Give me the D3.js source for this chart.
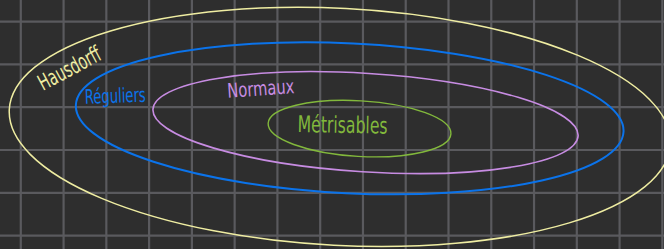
<!DOCTYPE html>
<html>
<head>
<meta charset="utf-8">
<script src="https://cdn.jsdelivr.net/npm/d3@7"></script>
<style>
  html, body { margin: 0; padding: 0; background: #2e2e2e; }
  svg { display: block; }
</style>
</head>
<body>
<svg id="chart" width="664" height="249"></svg>
<script>
// grid positions, in grid units
const gridCols = d3.range(0, 16);
const gridRows = d3.range(0, 6);

// the nested sets, outermost first (grid units, tilt in degrees)
const setNames = ["Hausdorff", "Réguliers", "Normaux", "Métrisables"];
const centreX = [7.46, 7.69, 8.06, 7.92];
const centreY = [2.46, 2.26, 2.36, 2.50];
const radiusX = [7.74, 6.41, 4.98, 2.14];
const radiusY = [2.77, 1.75, 1.15, 0.65];
const tilt = [3.0, 2.8, 3.6, 3.3];

// where each name is written (grid units) and its slant
const labelX = [0.52, 1.5, 4.84, 6.47];
const labelY = [1.62, 1.92, 1.78, 2.58];
const labelAngle = [-28, -2, -4, 1];

const colours = ["#efeda2", "#0b73ea", "#c78ce2", "#82b83c"];
const strokeW = [1.5, 2, 1.6, 1.4];
const fontSize = [22, 20, 20, 23];
const labelLen = [68, 61, 67, 90];

const W = 664, H = 249;
const svg = d3.select('#chart');

const x = d3.scaleLinear().domain([0, 15]).range([20.8, 20.8 + 15 * 42.77]);
const y = d3.scaleLinear().domain([0, 5]).range([21.6, 21.6 + 5 * 42.8]);

svg.append('rect')
    .attr('width', W)
    .attr('height', H)
    .attr('fill', '#2e2e2e');

// grille
const grid = svg.append('g').attr('stroke', '#5a5a5e').attr('stroke-width', 2.2);
grid.selectAll('.v')
    .data(gridCols)
    .join('line')
    .attr('x1', d => x(d)).attr('x2', d => x(d))
    .attr('y1', 0).attr('y2', H);
grid.selectAll('.h')
    .data(gridRows)
    .join('line')
    .attr('y1', d => y(d)).attr('y2', d => y(d))
    .attr('x1', 0).attr('x2', W);

const sets = setNames.map((name, i) => ({ name, i }));

// ellipses
svg.append('g')
    .selectAll('ellipse')
    .data(sets)
    .join('ellipse')
    .attr('cx', 0)
    .attr('cy', 0)
    .attr('rx', d => x(radiusX[d.i]) - x(0))
    .attr('ry', d => y(radiusY[d.i]) - y(0))
    .attr('transform', d => `translate(${x(centreX[d.i])},${y(centreY[d.i])}) rotate(${tilt[d.i]})`)
    .attr('fill', 'none')
    .attr('stroke', d => colours[d.i])
    .attr('stroke-width', d => strokeW[d.i]);

// noms des ensembles
svg.append('g')
    .selectAll('text')
    .data(sets)
    .join('text')
    .attr('transform', d => `translate(${x(labelX[d.i])},${y(labelY[d.i])}) rotate(${labelAngle[d.i]})`)
    .attr('font-family', '"Liberation Sans Narrow", "DejaVu Sans Condensed", "Liberation Sans", sans-serif')
    .attr('font-size', d => fontSize[d.i])
    .attr('textLength', d => labelLen[d.i])
    .attr('lengthAdjust', 'spacingAndGlyphs')
    .attr('fill', d => colours[d.i])
    .text(d => d.name);
</script>
</body>
</html>
